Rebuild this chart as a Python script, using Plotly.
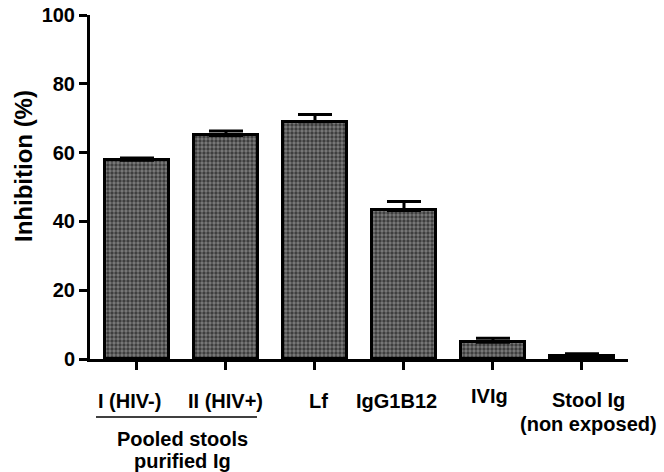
import plotly.graph_objects as go

categories = ["I (HIV-)", "II (HIV+)", "Lf", "IgG1B12", "IVIg", "Stool Ig"]
sub_labels = ["", "", "", "", "", "(non exposed)"]
inhibition = [57.8, 65.0, 69.0, 43.2, 4.9, 0.8]
error_up = [0.6, 1.3, 2.1, 2.6, 1.1, 0.7]
y_ticks = [0, 20, 40, 60, 80, 100]
group_lines = ["Pooled stools", "purified Ig"]

FONT = "Arial, Liberation Sans, sans-serif"
xpos = list(range(len(categories)))

fig = go.Figure()
fig.add_trace(go.Bar(
    x=xpos, y=inhibition, width=0.71,
    marker=dict(color="#7c7c7c",
                line=dict(color="black", width=3),
                pattern=dict(shape=".", fgcolor="black", size=4, solidity=0.55, fillmode="overlay")),
    error_y=dict(type="data", array=error_up, arrayminus=[0] * len(error_up), symmetric=False,
                 color="black", thickness=3, width=17),
    showlegend=False,
))

fig.update_layout(
    width=664, height=472, autosize=False,
    margin=dict(l=90, r=36, t=15, b=113),
    plot_bgcolor="white", paper_bgcolor="white",
    font=dict(family=FONT, color="black"),
    bargap=0,
)
fig.update_xaxes(range=[-0.528, 5.517], tickvals=xpos, showticklabels=False, automargin=False,
                 ticks="outside", ticklen=8, tickwidth=2.5, tickcolor="black",
                 showline=True, linecolor="black", linewidth=3, showgrid=False, zeroline=False)
fig.update_yaxes(range=[0, 100], tickvals=y_ticks, ticktext=[f"<b>{v}</b>" for v in y_ticks],
                 automargin=False,
                 tickfont=dict(size=20, family=FONT, color="black"),
                 ticks="outside", ticklen=8, tickwidth=2.5, tickcolor="black",
                 showline=True, linecolor="black", linewidth=3, showgrid=False, zeroline=False)


def py(p):
    return (359 - p) / 344.0


def dx(px):
    return (px - 137) / 89.0


def add_text(xd, ypx, txt, size=20):
    fig.add_annotation(x=xd, y=py(ypx), xref="x", yref="paper", text=f"<b>{txt}</b>",
                       showarrow=False, xanchor="center", yanchor="middle",
                       font=dict(size=size, family=FONT, color="black"))


label_x = [dx(129.5), dx(225.5), dx(319), dx(397), dx(490), dx(589)]
label_y = [401, 401, 401, 401, 396, 400]
for xd, lab, yy in zip(label_x, categories, label_y):
    add_text(xd, yy, lab)
for xd, lab in zip(label_x, sub_labels):
    if lab:
        add_text(xd, 424, lab)

fig.add_shape(type="line", xref="x", yref="paper", x0=dx(96), x1=dx(257), y0=py(417), y1=py(417),
              line=dict(color="black", width=1.5))
add_text(dx(183), 439, group_lines[0])
add_text(dx(183), 461, group_lines[1])

fig.add_annotation(x=(23 - 90) / 538.0, y=py(166), xref="paper", yref="paper",
                   text="<b>Inhibition (%)</b>", textangle=-90, showarrow=False,
                   xanchor="center", yanchor="middle",
                   font=dict(size=24, family=FONT, color="black"))

fig.write_html("out.html", config={"displayModeBar": False},
               post_script="document.body.style.margin='0px';")
